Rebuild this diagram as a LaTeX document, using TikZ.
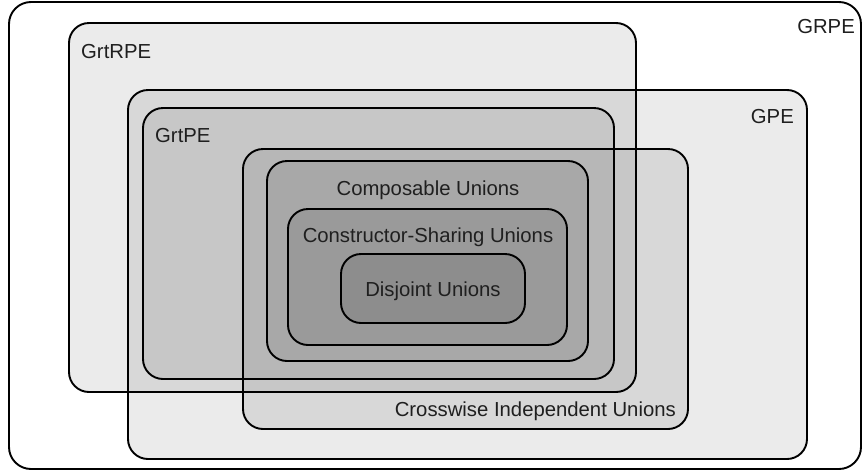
\documentclass[tikz,border=0pt]{standalone}
\usepackage{fontspec}
\setmainfont{Liberation Sans}
\begin{document}
\begin{tikzpicture}[x=1pt,y=-1pt,
  setbox/.style={draw=black, line width=1.9pt, rounded corners=20pt, fill=black, fill opacity=0.08, draw opacity=1, inner sep=0pt, outer sep=0pt, anchor=north west},
  outerbox/.style={draw=black, line width=1.9pt, rounded corners=22pt, fill=white, inner sep=0pt, outer sep=0pt, anchor=north west},
  lbl/.style={font=\fontsize{20.3}{24}\selectfont, text=black!88, inner sep=0pt}]
\useasboundingbox (0,0) rectangle (863,472);
\node[outerbox, minimum width=852pt, minimum height=467pt] (grpe) at (9,2) {};
\node[setbox, minimum width=567pt, minimum height=369pt] (grtrpe) at (69,23) {};
\node[setbox, minimum width=679pt, minimum height=369pt] (gpe) at (128,90) {};
\node[setbox, minimum width=471pt, minimum height=271pt] (grtpe) at (143,108) {};
\node[setbox, minimum width=445pt, minimum height=280pt] (cross) at (243,149) {};
\node[setbox, minimum width=321pt, minimum height=200pt] (comp) at (267,161) {};
\node[setbox, minimum width=279pt, minimum height=136pt] (cons) at (288,209) {};
\node[setbox, minimum width=184pt, minimum height=69pt] (disj) at (341,254) {};
\node[lbl, anchor=base east] (tgrpe) at (855,33) {GRPE};
\node[lbl, anchor=base west] (tgrtrpe) at (81,58) {GrtRPE};
\node[lbl, anchor=base east] (tgpe) at (794,123) {GPE};
\node[lbl, anchor=base west] (tgrtpe) at (155,142) {GrtPE};
\node[lbl, anchor=base] (tcomp) at (428,195) {Composable Unions};
\node[lbl, anchor=base] (tcons) at (428,242) {Constructor-Sharing Unions};
\node[lbl, anchor=base] (tdisj) at (433,296) {Disjoint Unions};
\node[lbl, anchor=base east] (tcross) at (676,416) {Crosswise Independent Unions};
\end{tikzpicture}
\end{document}
